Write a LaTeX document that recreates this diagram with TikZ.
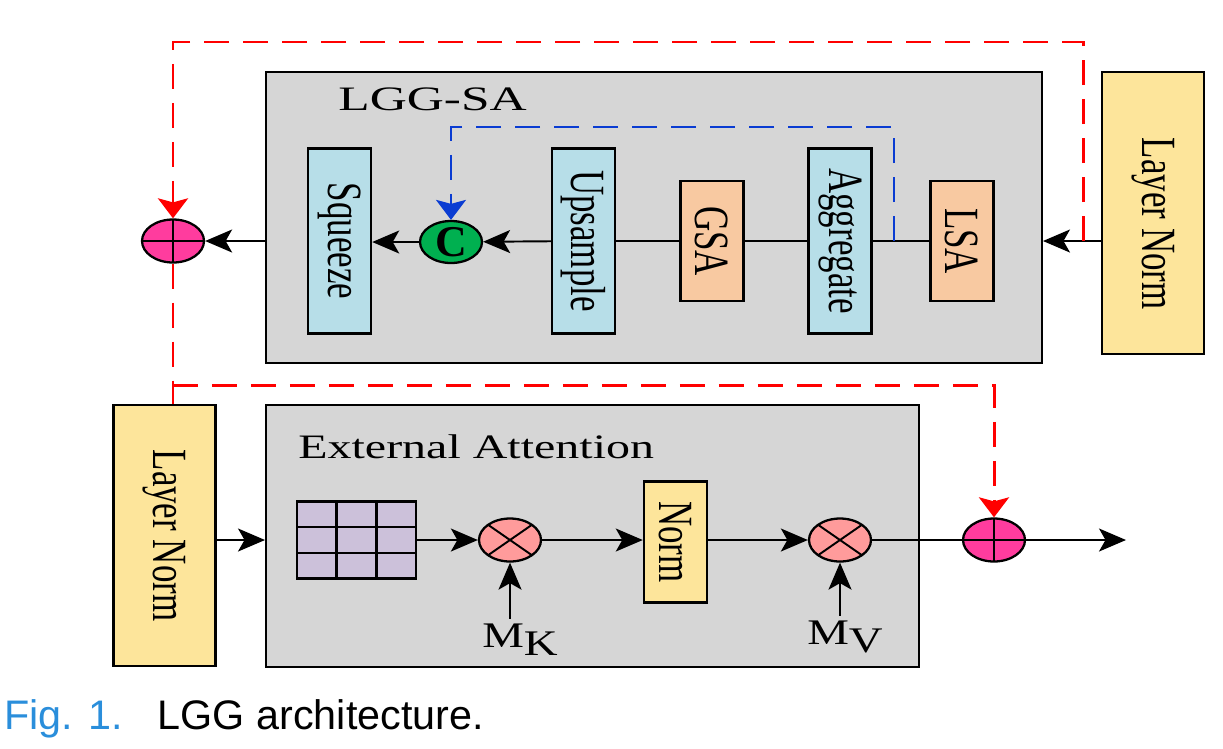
\documentclass[tikz,border=0pt]{standalone}
\usepackage{fontspec}
\setmainfont{Liberation Serif}
\newfontfamily\capfont{Liberation Sans}
\usetikzlibrary{arrows.meta,shapes.geometric,calc}

\definecolor{boxgray}{HTML}{D6D6D6}
\definecolor{cyanfill}{HTML}{B7DEE8}
\definecolor{peachfill}{HTML}{F8C9A1}
\definecolor{normfill}{HTML}{FDE59B}
\definecolor{gridfill}{HTML}{CCC1DA}
\definecolor{mulfill}{HTML}{FF9B9B}
\definecolor{addfill}{HTML}{FF3C9E}
\definecolor{catfill}{HTML}{00B050}
\definecolor{skipred}{HTML}{FF0000}
\definecolor{skipblue}{HTML}{0A3CD2}
\definecolor{figblue}{HTML}{2A8EDB}

% rotated, narrowed label for the tall blocks
\newcommand{\vlabel}[1]{\rotatebox{-90}{\scalebox{0.71}[1]{#1}}}

\begin{document}
\begin{tikzpicture}[x=0.02cm,y=-0.02cm]

\tikzset{
  module/.style={draw,line width=1.2pt,fill=boxgray,inner sep=0pt},
  block/.style={draw,line width=1.4pt,inner sep=0pt,minimum width=1.26cm,
    font=\fontsize{28}{30}\selectfont},
  cyan block/.style={block,fill=cyanfill,minimum height=3.7cm},
  peach block/.style={block,fill=peachfill,minimum height=2.4cm},
  ln block/.style={block,fill=normfill,minimum width=2.04cm},
  op/.style={ellipse,draw,line width=1.3pt,inner sep=0pt,
    minimum width=1.24cm,minimum height=0.86cm},
  add/.style={op,fill=addfill,path picture={
    \draw[line width=1.1pt] (path picture bounding box.north) -- (path picture bounding box.south)
      (path picture bounding box.west) -- (path picture bounding box.east);}},
  mul/.style={op,fill=mulfill,path picture={
    \draw[line width=1.1pt] (path picture bounding box.north west) -- (path picture bounding box.south east)
      (path picture bounding box.north east) -- (path picture bounding box.south west);}},
  title/.style={anchor=base west,inner sep=0pt,font=\fontsize{19.5}{21}\selectfont},
  mlabel/.style={inner sep=0.1cm,font=\fontsize{20.5}{22}\selectfont},
  arr/.style={line width=1.1pt,-{Stealth[length=0.54cm,width=0.46cm,inset=0.13cm]}},
  redskip/.style={draw=skipred,line width=1.7pt,dash pattern=on 0.5cm off 0.28cm},
  blueskip/.style={draw=skipblue,line width=1.2pt,dash pattern=on 0.5cm off 0.28cm},
  skiptip/.style={-{Stealth[length=0.4cm,width=0.6cm,inset=0.08cm]}}
}

  \useasboundingbox (0,0) rectangle (1223,748);

  % Modules
  \node[module,minimum width=15.52cm,minimum height=5.82cm] (lgg) at (654,217.5) {};
  \node[title] (lggTitle) at (338,110) {\scalebox{1.5}[1]{LGG-SA}};
  \node[module,minimum width=13.06cm,minimum height=5.24cm] (ea) at (592.5,536) {};
  \node[title] (eaTitle) at (298,458) {\scalebox{1.4}[1]{External Attention}};

  % Top branch
  \node[add] (plusTop) at (173,241) {};
  \node[cyan block] (squeeze) at (339.5,241) {\vlabel{Squeeze}};
  \node[op,fill=catfill,minimum height=0.84cm,font=\fontsize{25}{27}\selectfont\bfseries] (concat) at (451,242) {C};
  \node[cyan block] (upsample) at (583.5,241) {\vlabel{Upsample}};
  \node[peach block] (gsa) at (712,241) {\vlabel{GSA}};
  \node[cyan block] (aggregate) at (840,241) {\vlabel{Aggregate}};
  \node[peach block] (lsa) at (962,241) {\vlabel{LSA}};
  \node[ln block,minimum height=5.64cm] (lnTop) at (1153,213) {\vlabel{\hspace{0.6cm}Layer Norm}};
  \coordinate (tap) at (894,241);
  \coordinate (skipA) at (1083,241);

  % Bottom branch
  \node[ln block,minimum height=5.22cm] (lnBot) at (164.5,535.5) {\vlabel{Layer Norm}};
  \node[draw,line width=1.4pt,fill=gridfill,inner sep=0pt,outer sep=0pt,
    minimum width=2.38cm,minimum height=1.54cm] (feat) at (356.5,540) {};
  \foreach \k in {1,2} {
    \draw[line width=1.4pt] ($(feat.north west)!\k/3!(feat.north east)$) -- ($(feat.south west)!\k/3!(feat.south east)$);
    \draw[line width=1.4pt] ($(feat.north west)!\k/3!(feat.south west)$) -- ($(feat.north east)!\k/3!(feat.south east)$);
  }
  \node[mul] (mulK) at (510,540) {};
  \node[mlabel] (mk) at (520,640) {\scalebox{1.3}[1]{M\raisebox{-0.16cm}{K}}};
  \node[block,fill=normfill,minimum height=2.42cm] (norm) at (675.5,542) {\vlabel{Norm}};
  \node[mul] (mulV) at (840,540) {};
  \node[mlabel] (mv) at (845,637) {\scalebox{1.3}[1]{M\raisebox{-0.16cm}{V}}};
  \node[add] (plusBot) at (994,540) {};
  \coordinate (out) at (1126,540);

  % Edges
  \draw[arr] (lnTop.west |- lsa) -- (lgg.east |- lsa);
  \draw[line width=1.1pt] (lsa) -- (aggregate);
  \draw[line width=1.1pt] (aggregate) -- (gsa);
  \draw[line width=1.1pt] (gsa) -- (upsample);
  \draw[arr] (upsample) -- (concat);
  \draw[arr] (concat) -- (squeeze.east |- concat);
  \draw[arr] (lgg.west |- plusTop) -- (plusTop);

  \draw[arr] (lnBot.east |- feat) -- (ea.west |- feat);
  \draw[arr] (feat) -- (mulK);
  \draw[arr] (mulK) -- (mulK -| norm.west);
  \draw[arr] (mulK -| norm.east) -- (mulV);
  \draw[arr] (mk.north -| mulK) -- (mulK);
  \draw[arr] (mv.north -| mulV) -- (mulV);
  \draw[line width=1.1pt] (mulV) -- (plusBot);
  \draw[arr] (plusBot) -- (out);

  % Skip connections
  \draw[redskip,skiptip] (skipA) -- (skipA |- 0,42) -| (plusTop.north);
  \draw[blueskip,skiptip] (tap) -- (tap |- 0,127) -| (concat.north);
  \draw[redskip] (plusTop.south) -- (plusTop.south |- lnBot.north);
  \draw[redskip,skiptip] (plusTop.south |- 0,385) -| (plusBot.north);

  % Caption
  \node[anchor=base west,inner sep=0pt,font=\capfont\fontsize{23.5}{25}\selectfont] (caption) at (4,729)
    {\textcolor{figblue}{Fig. 1.}\hspace{0.7cm}LGG architecture.};
\end{tikzpicture}
\end{document}
